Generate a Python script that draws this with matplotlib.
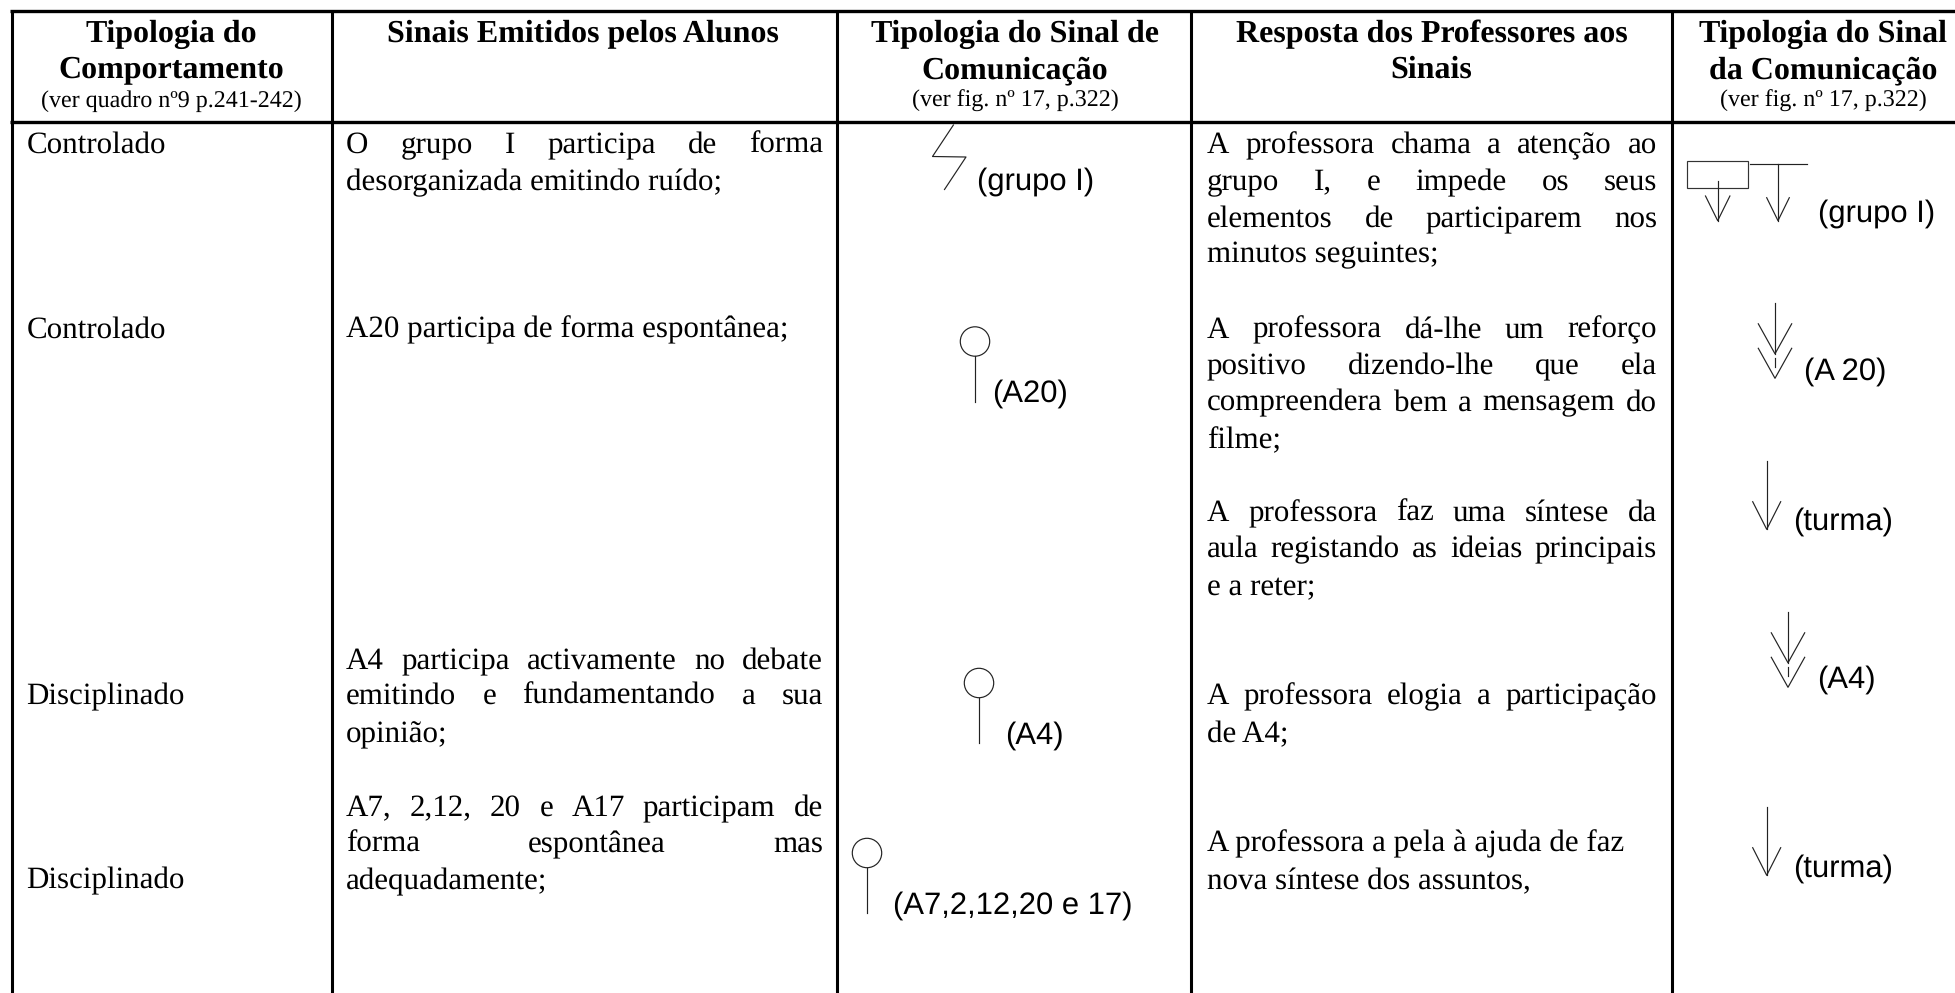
import matplotlib
matplotlib.use("Agg")
import matplotlib.pyplot as plt
from matplotlib.patches import Circle, Rectangle

plt.rcParams["text.hinting"] = "no_hinting"
plt.rcParams["text.hinting_factor"] = 1

W = 1955
H = 993
SERIF = "Liberation Serif"
SANS = "Liberation Sans"

# cabecalho
head_titles = [
    ["Tipologia do", "Comportamento"],
    ["Sinais Emitidos pelos Alunos"],
    ["Tipologia do Sinal de", "Comunicação"],
    ["Resposta dos Professores aos", "Sinais"],
    ["Tipologia do Sinal", "da Comunicação"],
]
head_notes = [
    "(ver quadro nº9 p.241-242)",
    "",
    "(ver fig. nº 17, p.322)",
    "",
    "(ver fig. nº 17, p.322)",
]
head_x = [171, 583, 1015, 1431.5, 1823]

# coluna 1
col1_text = ["Controlado", "Controlado", "Disciplinado", "Disciplinado"]
col1_y = [153, 337.5, 704, 888]

# coluna 2
col2_text = [
    "O grupo I participa de forma",
    "desorganizada emitindo ruído;",
    "A20 participa de forma espontânea;",
    "A4 participa activamente no debate",
    "emitindo e fundamentando a sua",
    "opinião;",
    "A7, 2,12, 20 e A17 participam de",
    "forma espontânea mas",
    "adequadamente;",
]
col2_y = [153, 190, 337.5, 669, 704, 742, 816, 852, 889]
col2_just = [1, 0, 0, 1, 1, 0, 1, 1, 0]

# coluna 4
col4_text = [
    "A professora chama a atenção ao",
    "grupo I, e impede os seus",
    "elementos de participarem nos",
    "minutos seguintes;",
    "A professora dá-lhe um reforço",
    "positivo dizendo-lhe que ela",
    "compreendera bem a mensagem do",
    "filme;",
    "A professora faz uma síntese da",
    "aula registando as ideias principais",
    "e a reter;",
    "A professora elogia a participação",
    "de A4;",
    "A professora a pela à ajuda de faz",
    "nova síntese dos assuntos,",
]
col4_y = [153, 190, 227, 262, 337.5, 374, 410.5, 448, 521, 557, 595, 704, 742, 851.5, 889]
col4_just = [1, 1, 1, 0, 1, 1, 1, 0, 1, 1, 0, 1, 0, 0, 0]

# etiquetas dos sinais
sign_labels = ["(grupo I)", "(A20)", "(A4)", "(A7,2,12,20 e 17)",
               "(grupo I)", "(A 20)", "(turma)", "(A4)", "(turma)"]
sign_label_x = [977, 992, 1005, 893, 1818, 1804, 1793, 1817, 1793]
sign_label_y = [190, 402, 744, 914, 221.5, 380, 530, 688, 877]

# sinais de comunicacao: circulo com haste
pin_x = [975, 979, 867]
pin_y = [341.5, 683, 853]
pin_len = [60, 60, 60]

# setas simples
arrow_x = [1766.7, 1766.7]
arrow_top = [460.7, 806.7]
arrow_tip = [529.3, 875.3]

# setas duplas
double_x = [1775, 1788]
double_top = [303.3, 612.3]

fig = plt.figure(figsize=(W / 100, H / 100), dpi=100)
ax = fig.add_axes([0, 0, 1, 1])
ax.set_xlim(0, W)
ax.set_ylim(H, 0)
ax.axis("off")
rend = fig.canvas.get_renderer()

# grelha
for x in [12, 332, 837, 1191, 1672]:
    ax.plot([x, x], [11, H], color="black", lw=2.2, solid_capstyle="butt")
for y in [11, 122]:
    ax.plot([10.5, W], [y, y], color="black", lw=2.4, solid_capstyle="butt")


def put(x, y, s, size=22.6, family=SERIF, weight="normal", ha="left"):
    return ax.text(x, y, s, fontsize=size, family=family, weight=weight,
                   ha=ha, va="baseline", color="black")


def justified(x0, x1, y, s):
    words = s.split(" ")
    parts = [put(x0, y, w) for w in words]
    sizes = [p.get_window_extent(rend).width for p in parts]
    gap = (x1 - x0 - sum(sizes)) / (len(words) - 1)
    pos = x0
    for p, w in zip(parts, sizes):
        p.set_x(pos)
        pos += w + gap


for x, title, note in zip(head_x, head_titles, head_notes):
    for i, line in enumerate(title):
        put(x, 42 + i * 36, line, size=22.8, weight="bold", ha="center")
    if note:
        put(x, 107, note, size=17.2, ha="center")

for s, y in zip(col1_text, col1_y):
    put(26.5, y, s)

for s, y, j in zip(col2_text, col2_y, col2_just):
    if j:
        justified(346, 823, y, s)
    else:
        put(346, y, s)

for s, y, j in zip(col4_text, col4_y, col4_just):
    if j:
        justified(1207, 1657, y, s)
    else:
        put(1207, y, s)

for s, x, y in zip(sign_labels, sign_label_x, sign_label_y):
    put(x, y, s, size=22.4, family=SANS)

THIN = dict(color="#222222", lw=0.85)


def line(xs, ys):
    ax.plot(xs, ys, **THIN)


def vee(x, tip, half, rise):
    line([x - half, x, x + half], [tip - rise, tip, tip - rise])


# raio
line([953.4, 932.5, 966, 944.5], [125, 156.5, 157, 189.5])

for x, y, n in zip(pin_x, pin_y, pin_len):
    ax.add_patch(Circle((x, y), 14.7, fill=False, ec="#222222", lw=0.85))
    line([x, x], [y + 14.7, y + n])

for x, a, b in zip(arrow_x, arrow_top, arrow_tip):
    line([x, x], [a, b])
    vee(x, b, 14, 27.6)

for x, a in zip(double_x, double_top):
    line([x, x], [a, a + 50.5])
    vee(x, a + 50.5, 16.7, 30)
    vee(x, a + 75, 16.7, 30)
    line([x, x], [a + 55, a + 64])

# sinal do grupo I na ultima coluna
ax.add_patch(Rectangle((1687.3, 161), 60.7, 26.7, fill=False, ec="#333333", lw=0.85))
line([1717.7, 1717.7], [181, 220.7])
vee(1717.7, 220.7, 12.2, 24.7)
line([1750, 1806.7], [164.3, 164.3])
line([1778, 1778], [164.3, 220.7])
vee(1778, 220.7, 11.3, 23)

fig.savefig("out.png", dpi=100, facecolor="white")
